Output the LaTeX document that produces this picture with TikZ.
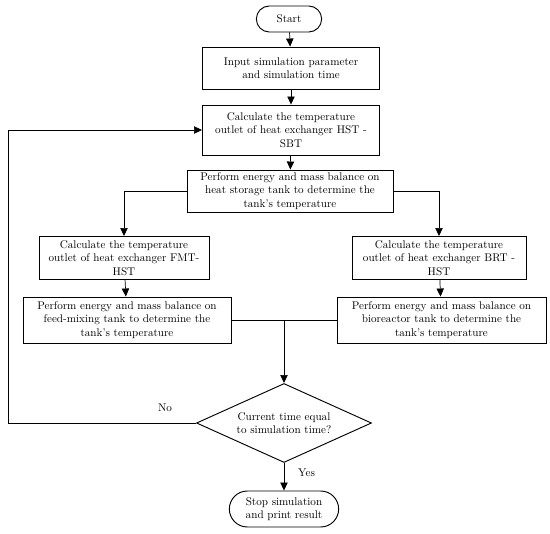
\documentclass[tikz,border=0pt]{standalone}
\usepackage{amsmath, amssymb}
\usetikzlibrary{positioning, arrows.meta, shapes.geometric, shapes.misc}

\begin{document}
\begin{tikzpicture}[x=0.03cm, y=-0.03cm, >={Triangle[length=0.24cm,width=0.22cm]},
  every node/.style={font=\fontsize{9.5}{11.5}\selectfont, align=center},
  procbox/.style={draw, line width=0.8pt, inner sep=2pt},
  termbox/.style={draw, line width=0.8pt, rounded rectangle, inner sep=2pt},
  decbox/.style={draw, line width=0.8pt, diamond, aspect=2.2, inner sep=0pt,
    minimum width=5.25cm, minimum height=2.37cm},
  flow/.style={line width=0.6pt}
]
  \useasboundingbox (0,0) rectangle (550,534);

  % main column
  \node[termbox, minimum width=2.1cm, minimum height=0.78cm] (start) at (289,19) {Start};
  \node[procbox, minimum width=5.31cm, minimum height=1.26cm] (input) at (291,68)
    {Input simulation parameter\\and simulation time};
  \node[procbox, minimum width=5.31cm, minimum height=1.5cm] (calcsbt) at (291,130)
    {Calculate the temperature\\outlet of heat exchanger HST -\\SBT};
  \node[procbox, minimum width=6.18cm, minimum height=1.26cm] (perfhst) at (290,191)
    {Perform energy and mass balance on\\heat storage tank to determine the\\tank's temperature};

  % left branch
  \node[procbox, minimum width=5.1cm, minimum height=1.29cm] (calcfmt) at (124,258)
    {Calculate the temperature\\outlet of heat exchanger FMT-\\HST};
  \node[procbox, minimum width=6.24cm, minimum height=1.38cm] (perffmt) at (127,320)
    {Perform energy and mass balance on\\feed-mixing tank to determine the\\tank's temperature};

  % right branch
  \node[procbox, minimum width=5.22cm, minimum height=1.29cm] (calcbrt) at (439,258)
    {Calculate the temperature\\outlet of heat exchanger BRT -\\HST};
  \node[procbox, minimum width=6.27cm, minimum height=1.38cm] (perfbrt) at (441.5,320)
    {Perform energy and mass balance on\\bioreactor tank to determine the\\tank's temperature};

  % check and end
  \node[decbox] (check) at (284,423) {Current time equal\\to simulation time?};
  \node[termbox, minimum width=3.42cm, minimum height=1.08cm] (stop) at (284,509)
    {Stop simulation\\and print result};

  \coordinate (merge) at (check.north |- perffmt.east);
  \coordinate (loopcorner) at (8,423);

  \draw[flow,->] (start) -- (input);
  \draw[flow,->] (input) -- (calcsbt);
  \draw[flow,->] (calcsbt) -- (perfhst);
  \draw[flow,->] (perfhst.west) -| (calcfmt.north);
  \draw[flow,->] (perfhst.east) -| (calcbrt.north);
  \draw[flow,->] (calcfmt) -- (perffmt);
  \draw[flow,->] (calcbrt) -- (perfbrt);
  \draw[flow] (perffmt.east) -- (perfbrt.west);
  \draw[flow,->] (merge) -- (check.north);

  % loop back
  \draw[flow,->] (check.west) -- (loopcorner) |- (calcsbt.west);
  \node (nolabel) at (165,408) {No};

  \draw[flow,->] (check.south) -- (stop.north);
  \node[anchor=west] (yeslabel) at (294,473) {Yes};
\end{tikzpicture}
\end{document}
